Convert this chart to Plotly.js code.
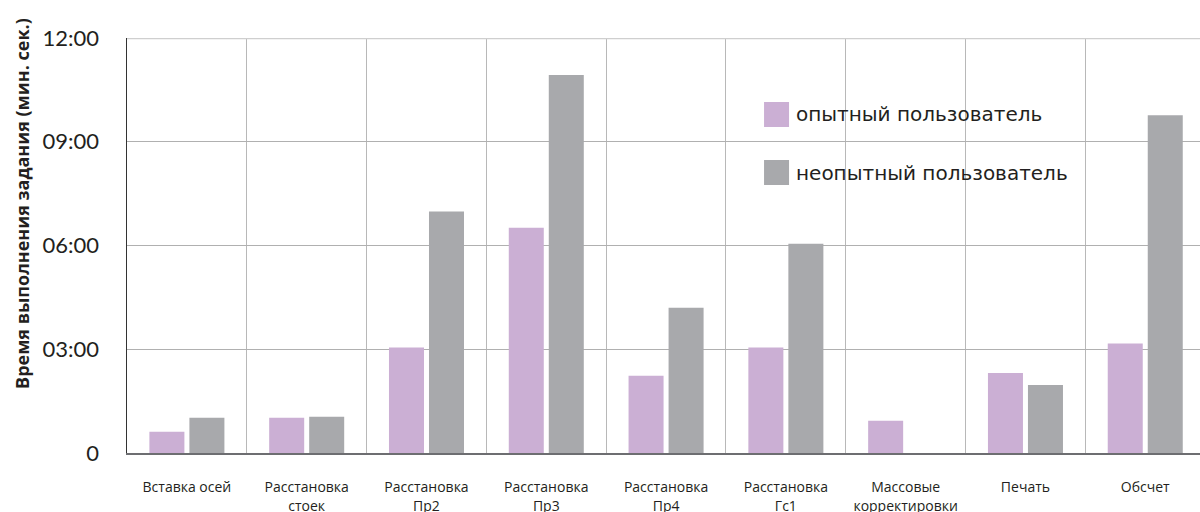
<!DOCTYPE html>
<html>
<head>
<meta charset="utf-8">
<script src="https://cdn.plot.ly/plotly-3.0.1.min.js"></script>
<style>html,body{margin:0;padding:0;background:#fff;}#chart{width:1200px;height:512px;}</style>
</head>
<body>
<div id="chart"></div>
<script>
// Categories (tasks)
const categories = [
  "Вставка осей",
  "Расстановка стоек",
  "Расстановка Пр2",
  "Расстановка Пр3",
  "Расстановка Пр4",
  "Расстановка Гс1",
  "Массовые корректировки",
  "Печать",
  "Обсчет"
];
// Tick labels: first and second line of each category label
const labelLine1 = ["Вставка осей", "Расстановка", "Расстановка", "Расстановка", "Расстановка", "Расстановка", "Массовые", "Печать", "Обсчет"];
const labelLine2 = ["", "стоек", "Пр2", "Пр3", "Пр4", "Гс1", "корректировки", "", ""];
// Task completion time, seconds
const experiencedSec = [37, 61, 183, 391, 134, 183, 56, 139, 190];
const noviceSec      = [61, 63, 419, 656, 252, 363, null, 118, 586];
// Y tick values (seconds) and labels (мин:сек)
const yTickVals = [0, 180, 360, 540, 720];
const yTickText = ["0", "03:00", "06:00", "09:00", "12:00"];
const seriesNames = ["опытный пользователь", "неопытный пользователь"];
const seriesColors = ["#cbafd4", "#a8a9ac"];
const yTitle = "Время выполнения задания (мин. сек.)";

const traces = [
  {type: "bar", name: seriesNames[0], x: categories, y: experiencedSec,
   marker: {color: seriesColors[0]}, hoverinfo: "skip"},
  {type: "bar", name: seriesNames[1], x: categories, y: noviceSec,
   marker: {color: seriesColors[1]}, hoverinfo: "skip"},
  // empty helper trace so the second-line label axis is drawn
  {type: "scatter", mode: "markers", x: [0], y: [null], xaxis: "x2", yaxis: "y",
   hoverinfo: "skip", showlegend: false}
];

const xRange = [-0.5, 8.457];
const labelFont = {family: "Open Sans", size: 14, color: "#231f20"};

const layout = {
  width: 1200, height: 512,
  margin: {l: 127, r: 0, t: 38, b: 59, pad: 0},
  paper_bgcolor: "#ffffff", plot_bgcolor: "#ffffff",
  barmode: "group", bargap: 0.332, bargroupgap: 0.125,
  showlegend: false,
  xaxis: {
    type: "category",
    range: xRange,
    categoryorder: "array", categoryarray: categories,
    tickvals: categories, ticktext: labelLine1,
    tickson: "boundaries",
    showgrid: true, gridcolor: "#b8b8b8", gridwidth: 1,
    showline: true, linecolor: "#6d6e71", linewidth: 2,
    ticks: "", ticklabelstandoff: 20,
    tickfont: labelFont,
    fixedrange: true
  },
  xaxis2: {
    type: "linear", overlaying: "x", anchor: "y", side: "bottom",
    range: xRange,
    tickvals: categories.map((c, i) => i), ticktext: labelLine2,
    showgrid: false, zeroline: false, showline: false,
    ticks: "", ticklabelstandoff: 43,
    tickfont: labelFont,
    fixedrange: true
  },
  yaxis: {
    range: [0, 720],
    tickvals: yTickVals, ticktext: yTickText,
    showgrid: true, gridcolor: "#b0b0b0", gridwidth: 1,
    zeroline: false,
    showline: true, linecolor: "#333333", linewidth: 1.5,
    ticks: "outside", ticklen: 22, tickcolor: "rgba(0,0,0,0)",
    tickfont: {family: "Lato", size: 22, color: "#231f20"},
    fixedrange: true
  },
  shapes: [
    {type: "line", xref: "paper", yref: "y", x0: 0, x1: 1, y0: yTickVals[4], y1: yTickVals[4],
     line: {color: "#cfcfcf", width: 2.5}},
    {type: "rect", xref: "paper", yref: "paper", x0: 0.5937, x1: 0.6170, y0: 0.7855, y1: 0.8458,
     fillcolor: seriesColors[0], line: {width: 0}},
    {type: "rect", xref: "paper", yref: "paper", x0: 0.5937, x1: 0.6170, y0: 0.6458, y1: 0.7060,
     fillcolor: seriesColors[1], line: {width: 0}}
  ],
  annotations: [
    {xref: "paper", yref: "paper", x: 0.6215, y: 0.8157, xanchor: "left", yanchor: "middle",
     text: seriesNames[0], showarrow: false,
     font: {family: "DejaVu Sans", size: 20, color: "#231f20"}},
    {xref: "paper", yref: "paper", x: 0.6215, y: 0.6759, xanchor: "left", yanchor: "middle",
     text: seriesNames[1], showarrow: false,
     font: {family: "DejaVu Sans", size: 20, color: "#231f20"}},
    {xref: "paper", yref: "paper", x: -0.0979, y: 0.6024, xanchor: "center", yanchor: "middle",
     textangle: -90, text: "<b>" + yTitle + "</b>", showarrow: false,
     font: {family: "Open Sans", size: 18, color: "#231f20"}}
  ]
};

Plotly.newPlot("chart", traces, layout, {displayModeBar: false, staticPlot: true});
</script>
</body>
</html>
